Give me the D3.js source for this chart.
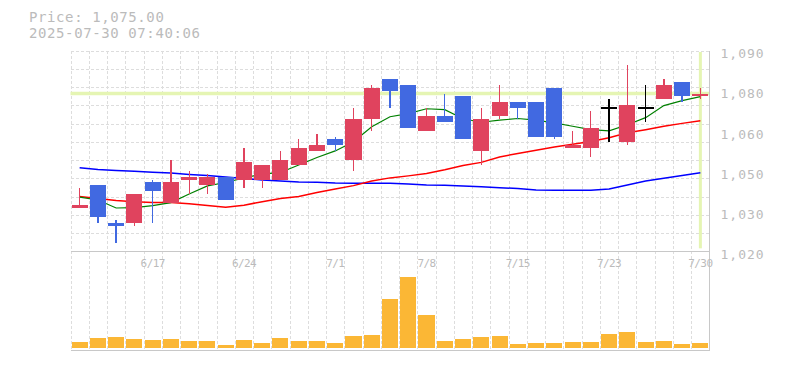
<!DOCTYPE html>
<html>
<head>
<meta charset="utf-8">
<script src="https://cdn.jsdelivr.net/npm/d3@7"></script>
<style>
  html, body { margin: 0; padding: 0; background: #fff; }
  svg { display: block; }
  .lbl { font-family: 'DejaVu Sans Mono', monospace; fill: #bbb; }
</style>
</head>
<body>
<div id="chart"></div>
<script>
// daily candles, 6/11 - 7/30
const dates = ['6/11','6/12','6/13','6/16','6/17','6/18','6/19','6/20','6/23','6/24',
  '6/25','6/26','6/27','6/30','7/1','7/2','7/3','7/4','7/7','7/8',
  '7/9','7/10','7/11','7/14','7/15','7/16','7/17','7/18','7/22','7/23',
  '7/24','7/25','7/28','7/29','7/30'];
const opens  = [1035,1043,1030,1030,1044,1037,1045,1043,1046,1045,1045,1045,1050,1055,1059,1052,1066,1080,1078,1062,1067,1074,1055,1067,1072,1072,1077,1056,1056,1070,1058,1070,1073,1079,1074];
const closes = [1036,1032,1029,1040,1041,1044,1046,1046,1038,1051,1050,1052,1056,1057,1057,1066,1077,1076,1063,1067,1065,1059,1066,1072,1070,1060,1060,1057,1063,1070,1071,1070,1078,1074,1075];
const highs  = [1042,1043,1031,1040,1045,1052,1048,1047,1046,1056,1050,1055,1059,1061,1060,1070,1078,1080,1078,1070,1075,1074,1070,1078,1072,1072,1077,1062,1069,1073,1085,1078,1080,1079,1077];
const lows   = [1035,1030,1023,1029,1030,1037,1040,1040,1038,1042,1042,1045,1050,1055,1055,1048,1062,1070,1063,1062,1065,1059,1050,1066,1066,1060,1059,1056,1053,1058,1057,1065,1073,1072,1073];
const volumes = [5700,9700,10700,8700,7700,8700,6700,6700,2700,7700,4700,9700,6700,6700,4700,11700,12700,48700,71000,32700,7000,8700,10700,11700,3700,4700,4700,5700,5700,13700,15700,5700,6700,3700,4700];

// moving averages (short / mid / long)
const maShort = [1038.9,1037.9,1035.1,1035.2,1035.9,1037.0,1040.0,1042.8,1044.0,1045.6,1046.9,1047.5,1050.1,1052.7,1055.0,1058.2,1063.4,1066.9,1068.0,1069.7,1069.4,1066.2,1065.0,1065.7,1066.3,1065.7,1064.8,1063.6,1062.4,1062.0,1064.1,1066.6,1070.8,1072.5,1073.9];
const maMid   = [1039.1,1038.4,1037.7,1037.3,1037.0,1037.0,1036.6,1036.0,1035.4,1036.1,1037.3,1038.4,1039.1,1040.5,1041.7,1042.9,1044.5,1045.6,1046.3,1047.1,1048.4,1049.9,1051.0,1052.9,1054.1,1055.2,1056.4,1057.3,1058.3,1059.6,1061.3,1062.4,1063.6,1064.6,1065.5];
const maLong  = [1049.1,1048.5,1048.2,1047.9,1047.6,1047.3,1046.8,1046.4,1045.9,1045.4,1044.9,1044.5,1044.2,1044.1,1043.8,1043.7,1043.7,1043.7,1043.5,1043.1,1043.0,1042.8,1042.5,1042.2,1041.9,1041.4,1041.3,1041.3,1041.3,1041.7,1043.1,1044.5,1045.5,1046.4,1047.4];

const lastPrice = 1075;
const yTicks = [1090,1076,1062,1048,1034,1020];
const yTickLabels = ['1,090','1,080','1,060','1,050','1,030','1,020'];
const xTickDates = ['6/17','6/24','7/1','7/8','7/15','7/23','7/30'];
const headerLines = ['Price: 1,075.00', '2025-07-30 07:40:06'];

const W = 785, H = 370;
const X0 = 70.5, X1 = 709.5, Y0 = 50.5;

const svg = d3.select('#chart').append('svg').attr('width', W).attr('height', H);

const x = d3.scaleBand().domain(dates).range([X0, X1]).paddingInner(0.12).paddingOuter(0.06);
const step = x.step();
const Y1 = Y0 + 11 * step;       // bottom of price panel
const V1 = 350.5;                // bottom of volume panel
const y = d3.scaleLinear().domain([1020, 1090]).range([Y1, Y0]);
const yv = d3.scaleLinear().domain([0, 100000]).range([348, 248]);
const cx = i => x(dates[i]) + x.bandwidth() / 2;

const upColor = '#e0435e', downColor = '#4169e1', gridColor = '#ddd', frameColor = '#c8c8c8';

// grid
const grid = svg.append('g').attr('shape-rendering', 'crispEdges');
d3.range(35).forEach(k => {
  const gx = Math.round(X0 + k * step) + 0.5;
  grid.append('line').attr('x1', gx).attr('x2', gx).attr('y1', Y0).attr('y2', V1)
    .attr('stroke', gridColor).attr('stroke-dasharray', '3,2');
});
d3.range(11).forEach(k => {
  const gy = Math.round(Y0 + k * step) + 0.5;
  grid.append('line').attr('x1', X0).attr('x2', X1).attr('y1', gy).attr('y2', gy)
    .attr('stroke', gridColor).attr('stroke-dasharray', '3,2');
});

// current price marker lines
svg.append('line').attr('x1', X0).attr('x2', X1).attr('y1', y(lastPrice)).attr('y2', y(lastPrice))
  .attr('stroke', '#e5f5b3').attr('stroke-width', 3.5);
svg.append('line').attr('x1', cx(34)).attr('x2', cx(34)).attr('y1', Y0 + 1.5).attr('y2', Y1 - 3)
  .attr('stroke', '#e5f5b3').attr('stroke-width', 3);

// frame
const frame = svg.append('g').attr('shape-rendering', 'crispEdges').attr('stroke', frameColor).attr('stroke-width', 1.5);
frame.append('line').attr('x1', X0).attr('x2', X1 + 0.5).attr('y1', Y1).attr('y2', Y1);
frame.append('line').attr('x1', X0).attr('x2', X1 + 0.5).attr('y1', V1).attr('y2', V1);
frame.append('line').attr('x1', X1).attr('x2', X1).attr('y1', Y0).attr('y2', V1);

// moving averages
const idx = d3.range(dates.length);
const maLine = arr => d3.line().x(i => cx(i)).y(i => y(arr[i]))(idx);
const ma = svg.append('g').attr('fill', 'none');
ma.append('path').attr('d', maLine(maLong)).attr('stroke', '#0000ff').attr('stroke-width', 1.5);
ma.append('path').attr('d', maLine(maMid)).attr('stroke', '#ff0000').attr('stroke-width', 1.5);
ma.append('path').attr('d', maLine(maShort)).attr('stroke', '#008000').attr('stroke-width', 1.2);

// candles
const candles = svg.append('g').attr('shape-rendering', 'crispEdges')
  .selectAll('g').data(idx).enter().append('g');
const colorOf = i => closes[i] > opens[i] ? upColor : closes[i] < opens[i] ? downColor : '#000';
candles.append('line')
  .attr('x1', i => cx(i)).attr('x2', i => cx(i))
  .attr('y1', i => y(highs[i])).attr('y2', i => y(lows[i]))
  .attr('stroke', colorOf).attr('stroke-width', 1.3);
candles.filter(i => closes[i] !== opens[i]).append('rect')
  .attr('x', i => x(dates[i])).attr('width', x.bandwidth())
  .attr('y', i => y(Math.max(opens[i], closes[i])))
  .attr('height', i => Math.max(1, Math.abs(y(opens[i]) - y(closes[i]))))
  .attr('fill', colorOf);
candles.filter(i => closes[i] === opens[i]).append('line')
  .attr('x1', i => x(dates[i])).attr('x2', i => x(dates[i]) + x.bandwidth())
  .attr('y1', i => y(closes[i])).attr('y2', i => y(closes[i]))
  .attr('stroke', '#000').attr('stroke-width', 1.5);

// volume
svg.append('g').attr('shape-rendering', 'crispEdges')
  .selectAll('rect').data(idx).enter().append('rect')
  .attr('x', i => x(dates[i])).attr('width', x.bandwidth())
  .attr('y', i => yv(volumes[i])).attr('height', i => yv(0) - yv(volumes[i]))
  .attr('fill', '#fbb735');

// axes
const yAxis = svg.append('g').attr('transform', `translate(${X1},3)`)
  .call(d3.axisRight(y).tickValues(yTicks).tickSize(0).tickPadding(11).tickFormat((d, i) => yTickLabels[i]));
yAxis.select('.domain').remove();
yAxis.selectAll('text').attr('class', 'lbl').attr('fill', null)
  .style('font-size', '13px').style('letter-spacing', '1px');

const xAxis = svg.append('g').attr('transform', `translate(0,${Y1})`)
  .call(d3.axisBottom(x).tickValues(xTickDates).tickSize(0).tickPadding(8));
xAxis.select('.domain').remove();
xAxis.selectAll('text').attr('class', 'lbl').attr('fill', null)
  .style('font-size', '11px').style('letter-spacing', '-0.6px');

// header
svg.selectAll('text.hdr').data(headerLines).enter().append('text')
  .attr('class', 'lbl hdr').attr('x', 29).attr('y', (d, i) => 22 + i * 16)
  .style('font-size', '14px').style('letter-spacing', '0.6px')
  .text(d => d);
</script>
</body>
</html>
